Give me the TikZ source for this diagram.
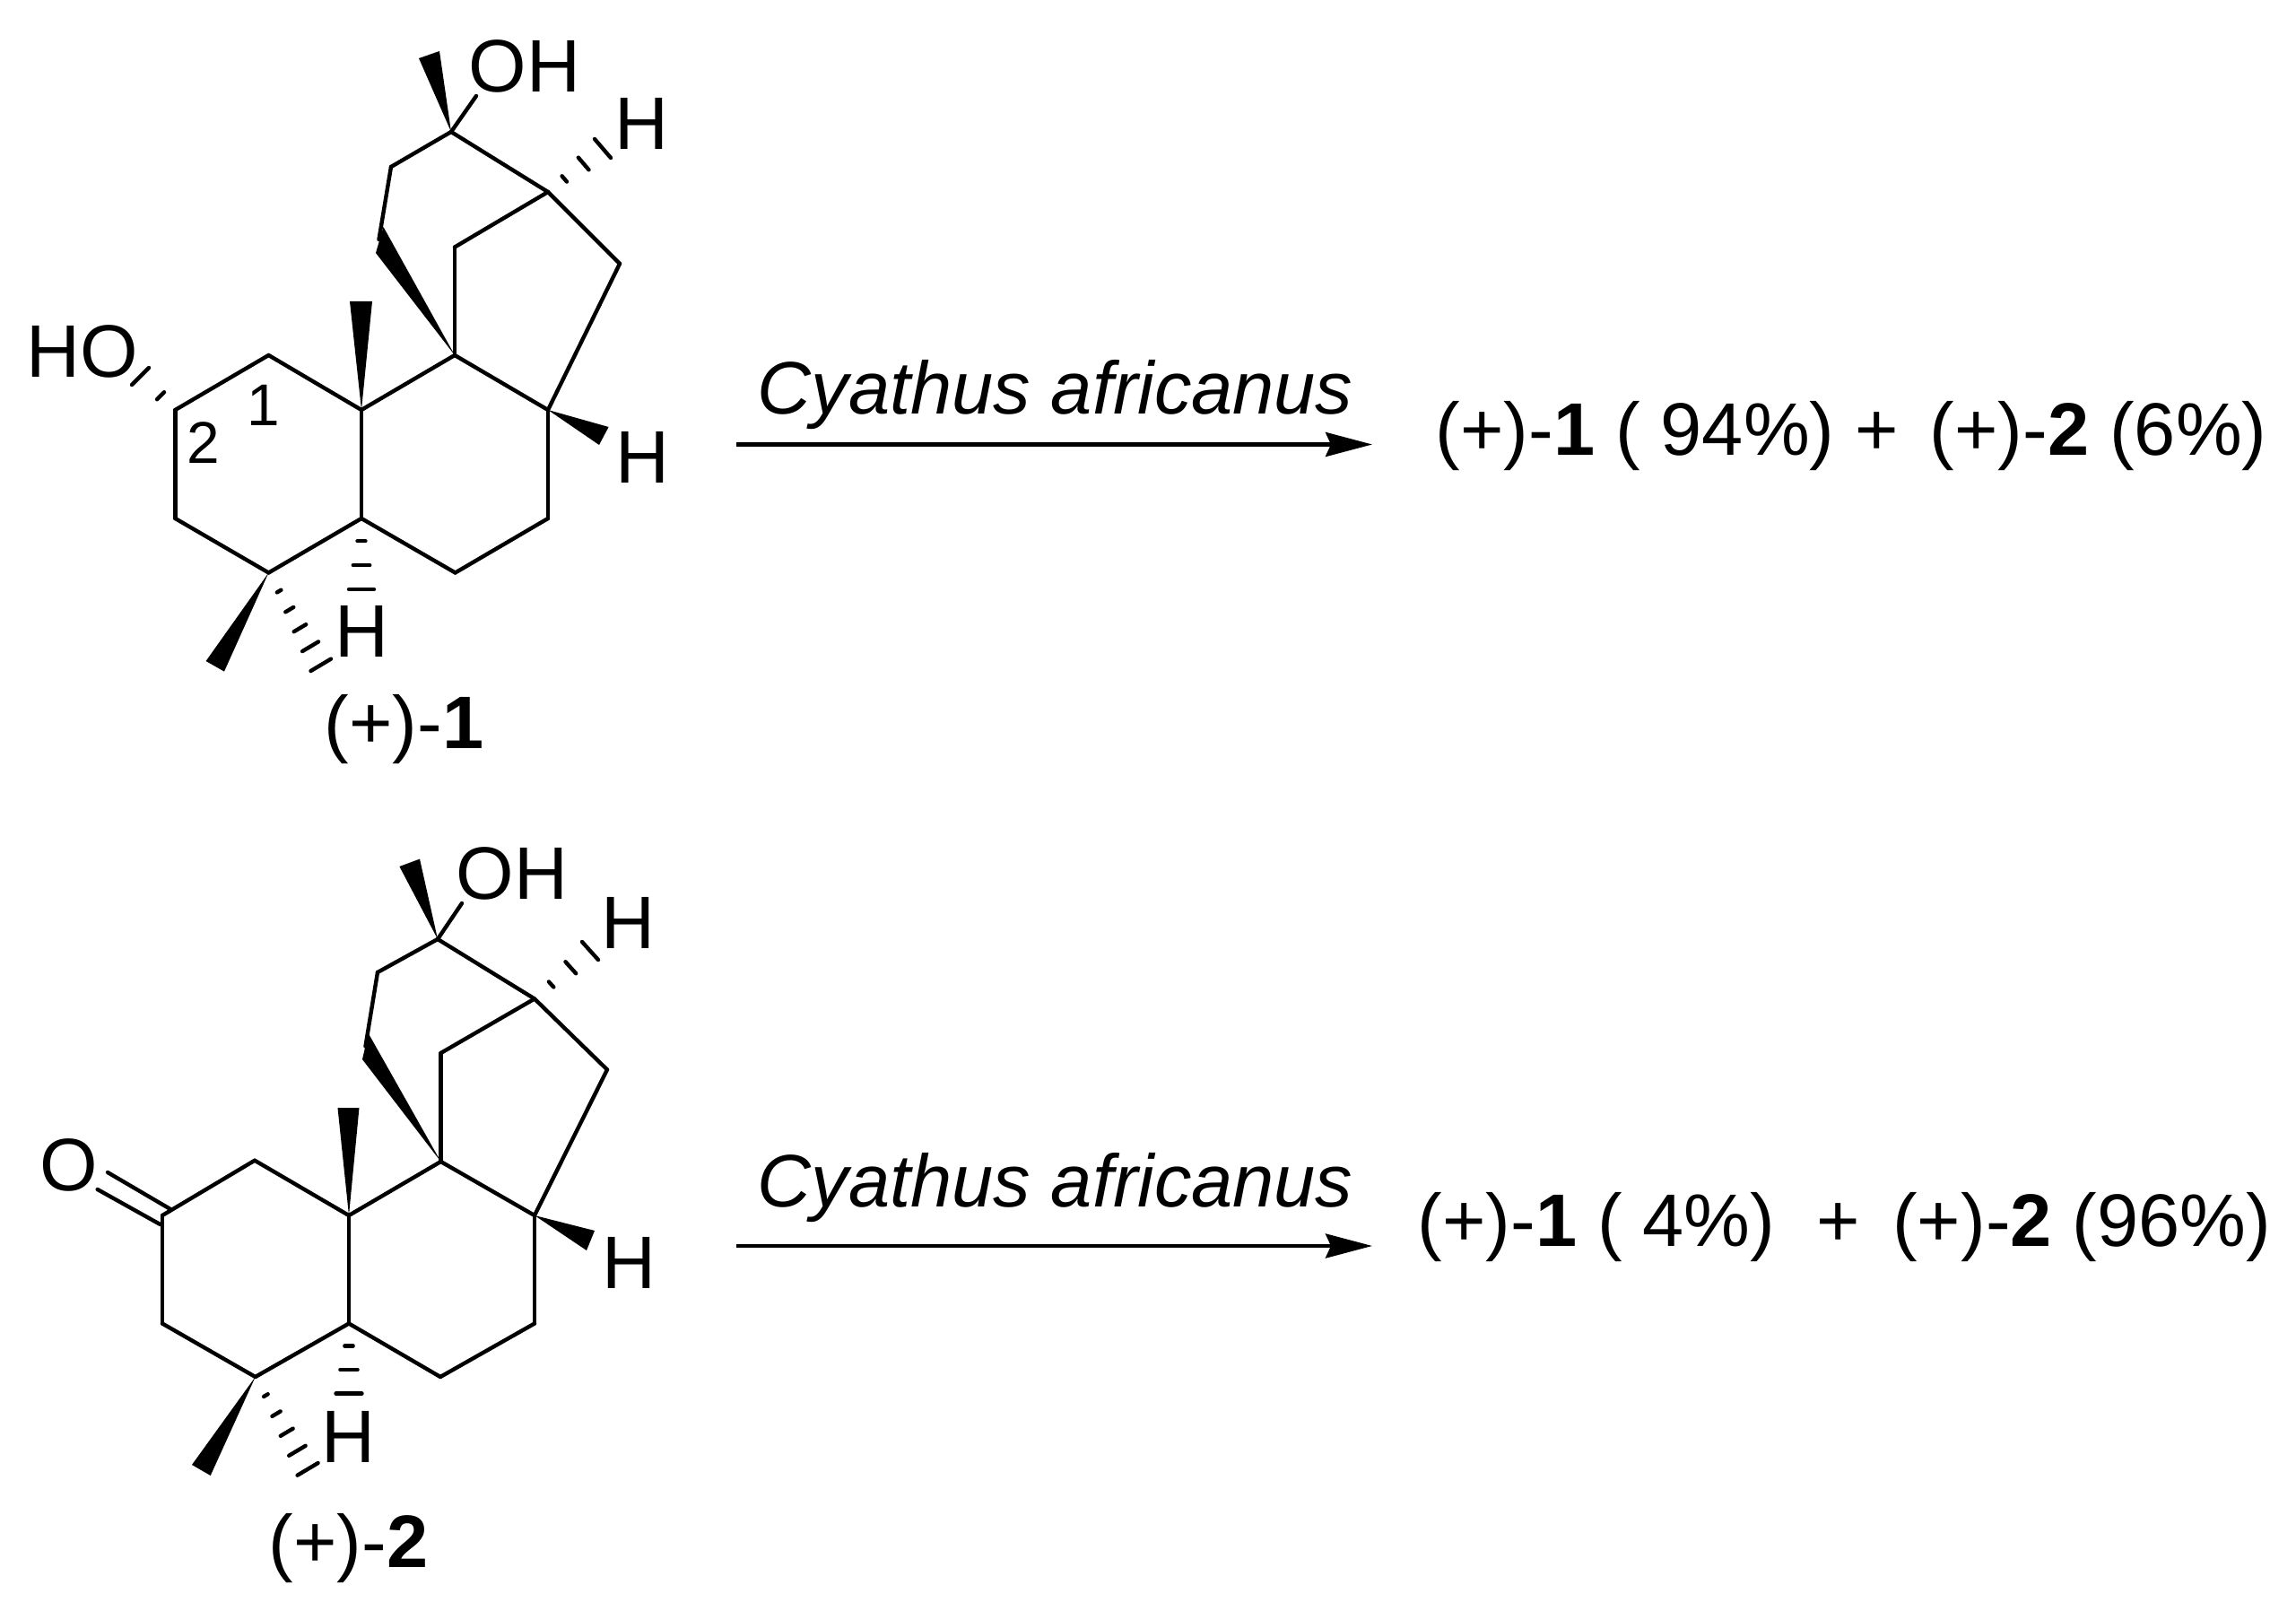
\documentclass[tikz,border=0pt]{standalone}
\usepackage{fontspec}
\setmainfont{Liberation Sans}
\usetikzlibrary{arrows.meta,calc}

\newcommand{\hashbond}[4]{
    \foreach \f in {#4}
        \draw[bond] ($(#1)!\f!(#2)$) -- ($(#1)!\f!(#3)$);
}

\begin{document}
\begin{tikzpicture}[
    atom/.style={coordinate},
    bond/.style={line width=1.25pt, line cap=round, line join=round},
    lab/.style={inner sep=0pt, font=\fontsize{23.6}{28}\selectfont},
    txt/.style={lab, anchor=base west},
    num/.style={inner sep=0pt, font=\fontsize{18.7}{22}\selectfont},
    react/.style={line width=1.25pt, -{Stealth[length=0.52cm, width=0.27cm, inset=0.06cm]}}
]
    \useasboundingbox (0, 0) rectangle (25.6, -17.96);

    \node[atom] at (5.03, -1.47)(a1){};
    \node[atom] at (4.36, -1.86)(a2){};
    \node[atom] at (4.225, -2.67)(a3){};
    \node[atom] at (6.11, -2.14)(a4){};
    \node[atom] at (5.07, -2.755)(a5){};
    \node[atom] at (6.91, -2.94)(a6){};
    \node[atom] at (6.11, -4.57)(a7){};
    \node[atom] at (5.07, -3.96)(a8){};
    \node[atom] at (4.03, -4.57)(a9){};
    \node[atom] at (2.995, -3.96)(a10){};
    \node[atom] at (1.954, -4.57)(a11){};
    \node[atom] at (1.954, -5.78)(a12){};
    \node[atom] at (2.995, -6.385)(a13){};
    \node[atom] at (4.03, -5.78)(a14){};
    \node[atom] at (5.076, -6.385)(a15){};
    \node[atom] at (6.11, -5.78)(a16){};

    \node[atom] at (4.275, -2.53)(w1){};
    \node[atom] at (4.19, -2.82)(w2){};
    \node[atom] at (3.90, -3.36)(w3){};
    \node[atom] at (4.15, -3.36)(w4){};
    \node[atom] at (4.67, -0.65)(w5){};
    \node[atom] at (4.90, -0.57)(w6){};
    \node[atom] at (6.786, -4.76)(w7){};
    \node[atom] at (6.68, -4.96)(w8){};
    \node[atom] at (2.296, -7.37)(w9){};
    \node[atom] at (2.50, -7.486)(w10){};
    \node[atom] at (5.31, -1.07)(e1){};

    \node[atom] at (6.63, -1.55)(s1){};
    \node[atom] at (6.81, -1.76)(s2){};
    \node[atom] at (3.89, -6.57)(s3){};
    \node[atom] at (4.17, -6.57)(s4){};
    \node[atom] at (3.465, -7.48)(s5){};
    \node[atom] at (3.69, -7.346)(s6){};
    \node[atom] at (1.47, -4.29)(s7){};
    \node[atom] at (1.66, -4.10)(s8){};

    \path[bond]
    (a1)edge(a2)
    (a2)edge(a3)
    (a1)edge(a4)
    (a1)edge(e1)
    (a4)edge(a5)
    (a4)edge(a6)
    (a5)edge(a8)
    (a6)edge(a7)
    (a8)edge(a7)
    (a8)edge(a9)
    (a9)edge(a10)
    (a10)edge(a11)
    (a11)edge(a12)
    (a12)edge(a13)
    (a13)edge(a14)
    (a14)edge(a9)
    (a14)edge(a15)
    (a15)edge(a16)
    (a16)edge(a7)
    ;

    \fill (a8) -- (w1) -- (w2) -- cycle;
    \fill (a9) -- (w3) -- (w4) -- cycle;
    \fill (a1) -- (w5) -- (w6) -- cycle;
    \fill (a7) -- (w7) -- (w8) -- cycle;
    \fill (a13) -- (w9) -- (w10) -- cycle;

    \hashbond{a4}{s1}{s2}{0.3,0.65,1}
    \hashbond{a14}{s3}{s4}{0.32,0.66,1}
    \hashbond{a13}{s5}{s6}{0.2,0.4,0.6,0.8,1}
    \hashbond{a11}{s7}{s8}{0.42,1}

    \node[lab] at (5.85, -0.74)(oh1){OH};
    \node[lab] at (7.15, -1.38)(h1){H};
    \node[lab] at (7.16, -5.10)(h2){H};
    \node[lab] at (4.03, -7.04)(h3){H};
    \node[lab] at (0.92, -3.92)(ho1){HO};
    \node[num] at (2.94, -4.52)(n1){1};
    \node[num] at (2.27, -4.935)(n2){2};
    \node[txt] at (3.61, -8.34)(tag1){(+)-\textbf{1}};

    \node[atom] at (4.88, -10.47)(b1){};
    \node[atom] at (4.21, -10.84)(b2){};
    \node[atom] at (4.075, -11.665)(b3){};
    \node[atom] at (5.96, -11.135)(b4){};
    \node[atom] at (4.915, -11.74)(b5){};
    \node[atom] at (6.77, -11.925)(b6){};
    \node[atom] at (5.96, -13.55)(b7){};
    \node[atom] at (4.915, -12.95)(b8){};
    \node[atom] at (3.89, -13.55)(b9){};
    \node[atom] at (2.84, -12.937)(b10){};
    \node[atom] at (1.81, -13.55)(b11){};
    \node[atom] at (1.81, -14.755)(b12){};
    \node[atom] at (2.847, -15.35)(b13){};
    \node[atom] at (3.89, -14.755)(b14){};
    \node[atom] at (4.91, -15.35)(b15){};
    \node[atom] at (5.96, -14.755)(b16){};

    \node[atom] at (4.107, -11.52)(v1){};
    \node[atom] at (4.04, -11.81)(v2){};
    \node[atom] at (3.765, -12.35)(v3){};
    \node[atom] at (4.005, -12.35)(v4){};
    \node[atom] at (4.454, -9.66)(v5){};
    \node[atom] at (4.68, -9.576)(v6){};
    \node[atom] at (6.63, -13.72)(v7){};
    \node[atom] at (6.54, -13.94)(v8){};
    \node[atom] at (2.14, -16.33)(v9){};
    \node[atom] at (2.347, -16.45)(v10){};
    \node[atom] at (5.15, -10.07)(e2){};
    \node[atom] at (1.90, -13.48)(d1){};
    \node[atom] at (1.20, -13.07)(d2){};
    \node[atom] at (1.786, -13.65)(d3){};
    \node[atom] at (1.087, -13.26)(d4){};

    \node[atom] at (6.49, -10.50)(t1){};
    \node[atom] at (6.67, -10.70)(t2){};
    \node[atom] at (3.745, -15.535)(t3){};
    \node[atom] at (4.035, -15.535)(t4){};
    \node[atom] at (3.316, -16.447)(t5){};
    \node[atom] at (3.546, -16.31)(t6){};

    \path[bond]
    (b1)edge(b2)
    (b2)edge(b3)
    (b1)edge(b4)
    (b1)edge(e2)
    (b4)edge(b5)
    (b4)edge(b6)
    (b5)edge(b8)
    (b6)edge(b7)
    (b8)edge(b7)
    (b8)edge(b9)
    (b9)edge(b10)
    (b10)edge(b11)
    (b11)edge(b12)
    (b12)edge(b13)
    (b13)edge(b14)
    (b14)edge(b9)
    (b14)edge(b15)
    (b15)edge(b16)
    (b16)edge(b7)
    (d1)edge(d2)
    (d3)edge(d4)
    ;

    \fill (b8) -- (v1) -- (v2) -- cycle;
    \fill (b9) -- (v3) -- (v4) -- cycle;
    \fill (b1) -- (v5) -- (v6) -- cycle;
    \fill (b7) -- (v7) -- (v8) -- cycle;
    \fill (b13) -- (v9) -- (v10) -- cycle;

    \hashbond{b4}{t1}{t2}{0.3,0.65,1}
    \hashbond{b14}{t3}{t4}{0.32,0.66,1}
    \hashbond{b13}{t5}{t6}{0.2,0.4,0.6,0.8,1}

    \node[lab] at (5.71, -9.74)(oh2){OH};
    \node[lab] at (7.00, -10.29)(h4){H};
    \node[lab] at (7.015, -14.08)(h5){H};
    \node[lab] at (3.88, -16.02)(h6){H};
    \node[lab] at (0.765, -12.987)(o2){O};
    \node[txt] at (2.99, -17.47)(tag2){(+)-\textbf{2}};

    \node[atom] at (8.21, -4.955)(r1){};
    \node[atom] at (15.30, -4.955)(r2){};
    \node[atom] at (8.21, -13.89)(r3){};
    \node[atom] at (15.30, -13.89)(r4){};

    \path[react]
    (r1)edge(r2)
    (r3)edge(r4)
    ;

    \node[txt] at (8.44, -4.62)(sp1){\itshape Cyathus africanus};
    \node[txt] at (8.44, -13.45)(sp2){\itshape Cyathus africanus};
    \node[txt] at (16.00, -5.07)(res1){(+)-\textbf{1} ( 94\%) +\hspace{0.42em}(+)-\textbf{2} (6\%)};
    \node[txt] at (15.80, -13.89)(res2){(+)-\textbf{1} ( 4\%) \ +\hspace{0.44em}(+)-\textbf{2} (96\%)};
\end{tikzpicture}
\end{document}
